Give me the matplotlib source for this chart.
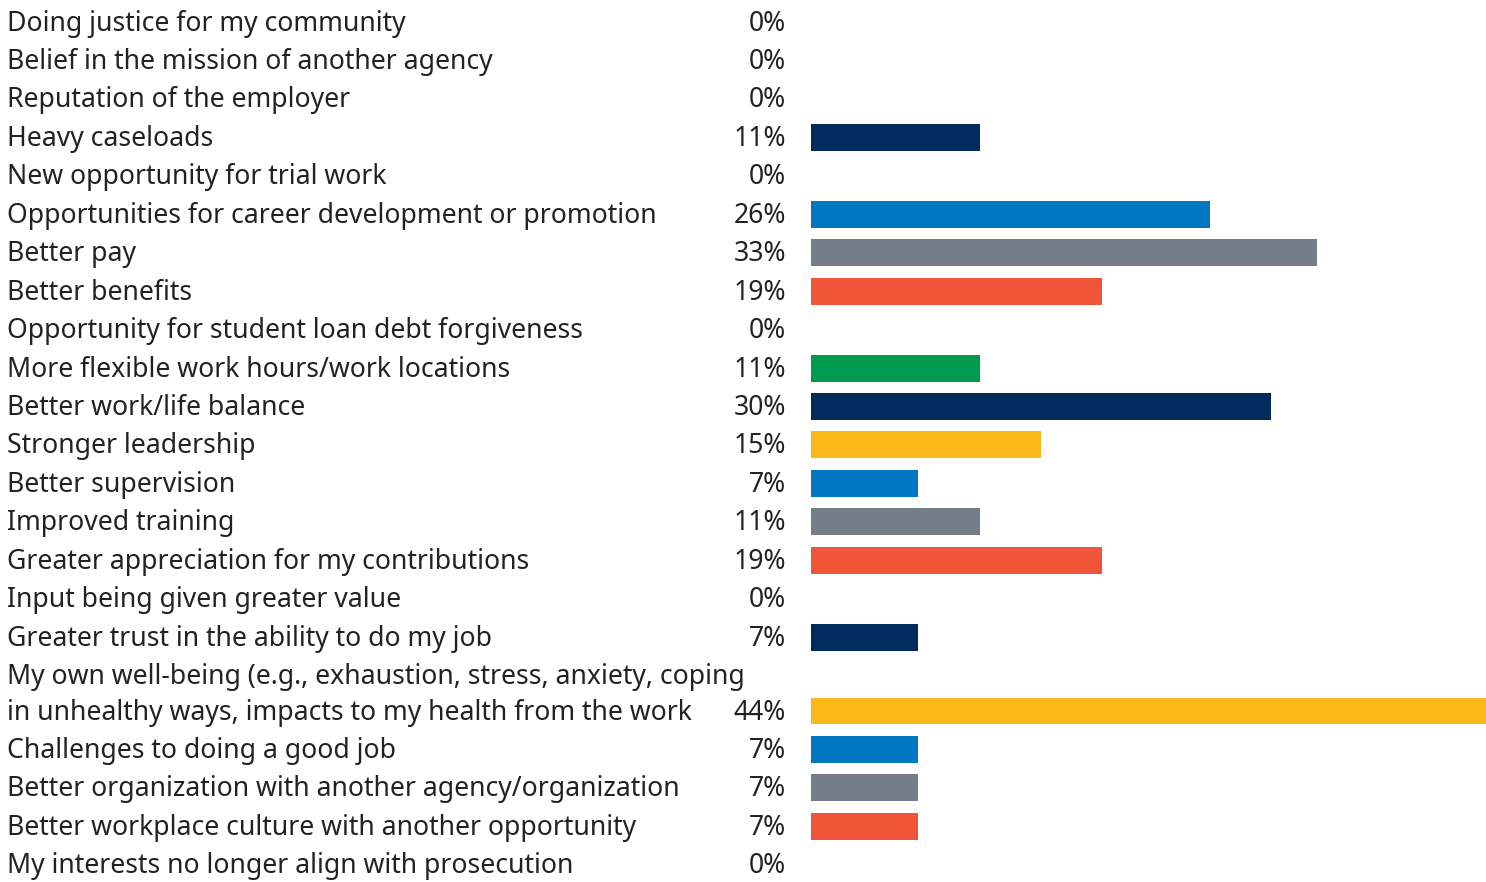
import matplotlib
matplotlib.use('Agg')
import matplotlib.pyplot as plt
import matplotlib.transforms as mtransforms

plt.rcParams['font.family'] = ['Noto Sans', 'DejaVu Sans']

labels = [
    "Doing justice for my community",
    "Belief in the mission of another agency",
    "Reputation of the employer",
    "Heavy caseloads",
    "New opportunity for trial work",
    "Opportunities for career development or promotion",
    "Better pay",
    "Better benefits",
    "Opportunity for student loan debt forgiveness",
    "More flexible work hours/work locations",
    "Better work/life balance",
    "Stronger leadership",
    "Better supervision",
    "Improved training",
    "Greater appreciation for my contributions",
    "Input being given greater value",
    "Greater trust in the ability to do my job",
    "My own well-being (e.g., exhaustion, stress, anxiety, coping\nin unhealthy ways, impacts to my health from the work",
    "Challenges to doing a good job",
    "Better organization with another agency/organization",
    "Better workplace culture with another opportunity",
    "My interests no longer align with prosecution",
]
values = [0, 0, 0, 11, 0, 26, 33, 19, 0, 11, 30, 15, 7, 11, 19, 0, 7, 44, 7, 7, 7, 0]

navy, blue, gray, red, green, yellow = '#002B5C', '#0077C0', '#737D87', '#F0553A', '#009A4E', '#FCB718'
colors = [navy, navy, navy, navy, navy, blue, gray, red, navy, green, navy,
          yellow, blue, gray, red, navy, navy, yellow, blue, gray, red, navy]

# row positions; the two-line label takes a bit less than one extra row
step = 0.92
pos = []
y = 0.0
for lab in labels:
    y += (lab.count('\n')) * step
    pos.append(y)
    y += 1

W, H = 1486, 882
fig = plt.figure(figsize=(W / 100, H / 100), dpi=100, facecolor='white')
ax = fig.add_axes([811 / W, 0, 675 / W, 1])
ax.barh(pos, values, height=0.7, color=colors)
ax.set_xlim(0, 44)
ax.set_ylim((H - 22) / 38.45, -22 / 38.45)
ax.axis('off')

fs = 19.15
dy = 0.04  # text sits a touch lower than the bar centre
trans = mtransforms.blended_transform_factory(fig.transFigure, ax.transData)
for p, lab, v in zip(pos, labels, values):
    lines = lab.split('\n')
    for k, line in enumerate(lines):
        ax.text(7 / W, p + dy - (len(lines) - 1 - k) * step, line, transform=trans,
                ha='left', va='center', fontsize=fs, color='#222222')
    ax.text(786 / W, p + dy, f"{v}%", transform=trans, ha='right', va='center',
            fontsize=fs, color='#222222')

fig.savefig('out.png', dpi=100, facecolor='white')
